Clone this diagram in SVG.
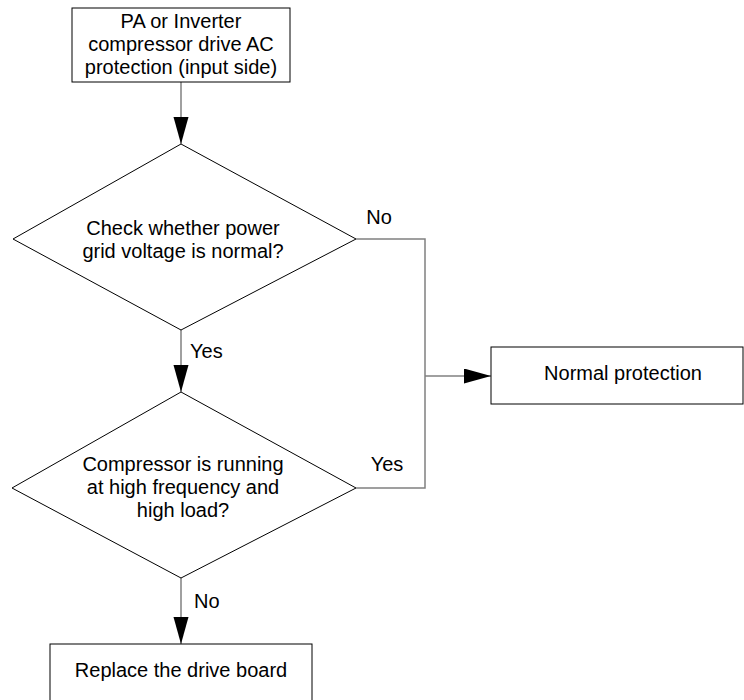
<svg xmlns="http://www.w3.org/2000/svg" width="744" height="700" viewBox="0 0 744 700">
<defs>
<style>
.shape{fill:#fff;stroke:#000;stroke-width:1}
.conn{fill:none;stroke:#808080;stroke-width:1.5}
text{font-family:"Liberation Sans",Arial,sans-serif;font-size:20px;fill:#000}
.c{text-anchor:middle}
</style>
<marker id="ah" markerUnits="userSpaceOnUse" markerWidth="28" markerHeight="16" refX="27" refY="7.5" orient="auto">
<polygon points="0,0 27,7.5 0,15" fill="#000"/>
</marker>
</defs>
<rect width="744" height="700" fill="#fff"/>
<g id="connectors">
<path class="conn" d="M181,82 V144" marker-end="url(#ah)"/>
<path class="conn" d="M181,330 V392" marker-end="url(#ah)"/>
<path class="conn" d="M181,578 V644" marker-end="url(#ah)"/>
<path class="conn" d="M356,239 H425 V488 H356"/>
<path class="conn" d="M425,376 H491" marker-end="url(#ah)"/>
<text x="379" y="224" class="c">No</text>
<text x="190" y="358">Yes</text>
<text x="387" y="471" class="c">Yes</text>
<text x="194" y="608">No</text>
</g>
<g id="start">
<rect class="shape" x="72" y="8" width="218" height="74"/>
<text x="181" y="28" class="c">PA or Inverter</text>
<text x="181" y="51" class="c">compressor drive AC</text>
<text x="181" y="74" class="c">protection (input side)</text>
</g>
<g id="check-voltage">
<polygon class="shape" points="181,144 356,239 181,330 13,239"/>
<text x="183" y="235" class="c">Check whether power</text>
<text x="183" y="258" class="c">grid voltage is normal?</text>
</g>
<g id="check-load">
<polygon class="shape" points="181,392 356,488 181,578 12,488"/>
<text x="183" y="471" class="c">Compressor is running</text>
<text x="183" y="494" class="c">at high frequency and</text>
<text x="183" y="517" class="c">high load?</text>
</g>
<g id="normal-protection">
<rect class="shape" x="491" y="347" width="252" height="57"/>
<text x="623" y="380" class="c">Normal protection</text>
</g>
<g id="replace-board">
<rect class="shape" x="50" y="644" width="262" height="60"/>
<text x="181" y="677" class="c">Replace the drive board</text>
</g>
</svg>
